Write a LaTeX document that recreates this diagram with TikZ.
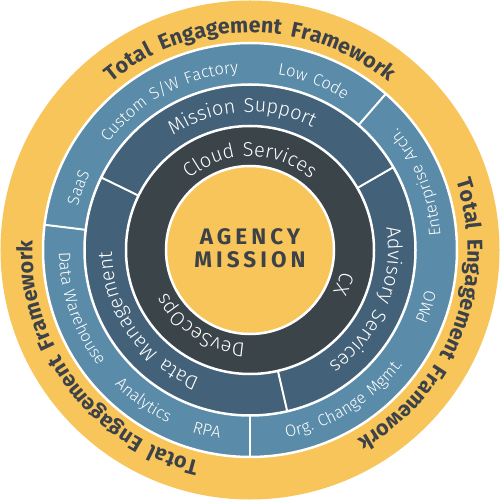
\documentclass[tikz,border=0pt]{standalone}
\usepackage{fontspec}
\usetikzlibrary{decorations.text}
\setmainfont{Fira Sans}
\newfontfamily\boldarc[LetterSpace=18]{Fira Sans}
\newfontfamily\lightarc[LetterSpace=10,UprightFont=* Light]{Fira Sans}
\newfontfamily\centerfont[LetterSpace=18]{Fira Sans}
\definecolor{yel}{HTML}{F8C55B}
\definecolor{blueA}{HTML}{5A8BA8}
\definecolor{blueB}{HTML}{436178}
\definecolor{darkC}{HTML}{3A4449}
\definecolor{txt}{HTML}{3C4247}
\newcommand\fmtY{\color{txt}\boldarc\bfseries\fontsize{21.5}{25}\selectfont}
\newcommand\fmtB{\color{white}\lightarc\fontsize{16.5}{20}\selectfont}
\newcommand\fmtM{\color{white}\lightarc\fontsize{20}{24}\selectfont}
\newcommand\arcCW[4]{\path[decorate,decoration={text along path,text align=center,text={|#3|#4}}] (#1+85:#2) arc[start angle=#1+85,end angle=#1-85,radius=#2];}
\newcommand\arcCCW[4]{\path[decorate,decoration={text along path,text align=center,text={|#3|#4}}] (#1-85:#2) arc[start angle=#1-85,end angle=#1+85,radius=#2];}
\tikzset{
  ringsep/.style={draw=white,line width=2.5pt},
  divider/.style={draw=white,line width=2pt},
  centertxt/.style={font=\centerfont\bfseries\fontsize{22.5}{26}\selectfont,text=txt,inner sep=0pt}
}
\begin{document}
\begin{tikzpicture}
\useasboundingbox (-250pt,-250pt) rectangle (250pt,250pt);
\fill[white] (-250pt,-250pt) rectangle (250pt,250pt);
\fill[yel] (0,0) circle (249.5pt);
\filldraw[ringsep,fill=blueA] (0,0) circle (207pt);
\filldraw[ringsep,fill=blueB] (0,0) circle (165.5pt);
\filldraw[ringsep,fill=darkC] (0,0) circle (124pt);
\filldraw[ringsep,fill=yel] (0,0) circle (84pt);
\foreach \a in {49,173,270} \draw[divider] (\a:165.5pt) -- (\a:207pt);
\foreach \a in {30,154,283} \draw[divider] (\a:124pt) -- (\a:165.5pt);
% outer yellow ring
\arcCW{90}{217.5pt}{\fmtY}{Total Engagement Framework}
\arcCW{-21}{217.5pt}{\fmtY}{Total Engagement Framework}
\arcCW{217}{217.5pt}{\fmtY}{Total Engagement Framework}
% blue ring
\arcCW{160}{177.5pt}{\fmtB}{SaaS}
\arcCW{118.3}{177.5pt}{\fmtB}{Custom S/W Factory}
\arcCW{69.4}{177.5pt}{\fmtB}{Low Code}
\arcCCW{22}{191pt}{\fmtB}{Enterprise Arch.}
\arcCCW{-18}{191pt}{\fmtB}{PMO}
\arcCCW{-58}{191pt}{\fmtB}{Org. Change Mgmt.}
\arcCCW{199}{191pt}{\fmtB}{Data Warehouse}
\arcCCW{234.7}{191pt}{\fmtB}{Analytics}
\arcCCW{256.6}{191pt}{\fmtB}{RPA}
% mission ring
\arcCW{93.5}{138pt}{\fmtM}{Mission Support}
\arcCW{-23}{138pt}{\fmtM}{Advisory Services}
\arcCW{214.6}{138pt}{\fmtM}{Data Management}
% dark ring
\arcCW{90}{93.5pt}{\fmtM}{Cloud Services}
\arcCW{-20}{93.5pt}{\fmtM}{CX}
\arcCW{237}{93.5pt}{\fmtM}{DevSecOps}
% centre
\node[centertxt,anchor=base] (agency) at (0,5pt) {AGENCY};
\node[centertxt,anchor=base] (missionlbl) at (0,-18pt) {MISSION};
\end{tikzpicture}
\end{document}
